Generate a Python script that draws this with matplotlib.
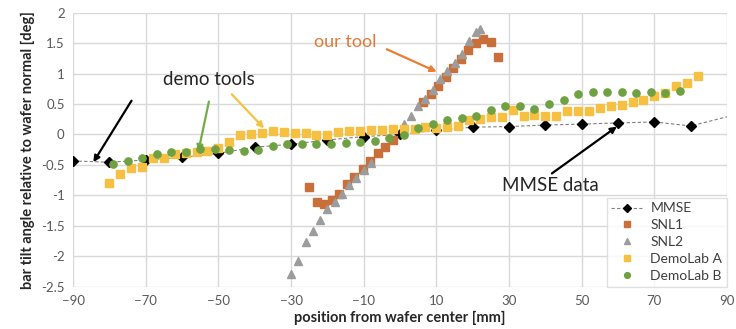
import matplotlib

matplotlib.use("Agg")
from matplotlib import pyplot as plt

plt.rcParams["font.family"] = ["Lato", "DejaVu Sans"]

# MMSE reference points (last one sits outside the plot, only the line shows)
mmse_x = [-90, -80, -70, -60, -50, -40, -30, -20, -10, 0, 10, 20, 30, 40, 50, 60, 70, 80, 100]
mmse_y = [-0.435, -0.455, -0.42, -0.375, -0.31, -0.21, -0.16, -0.09, -0.035, 0.0,
          0.07, 0.12, 0.13, 0.155, 0.17, 0.19, 0.205, 0.14, 0.44]

snl1_x = [-25, -22.9, -20.9, -18.8, -16.7, -14.7, -12.7, -10.3, -8.25, -6.1, -4.0, -1.8,
          6.4, 8.45, 10.55, 12.6, 14.7, 16.7, 18.8, 20.9, 22.9, 25.0, 27.0]
snl1_y = [-0.87, -1.11, -1.14, -1.08, -0.97, -0.82, -0.70, -0.57, -0.435, -0.31, -0.21, -0.09,
          0.54, 0.665, 0.80, 0.94, 1.09, 1.24, 1.38, 1.50, 1.56, 1.52, 1.27]

snl2_x = [-30, -28, -26, -24, -22, -20, -18, -16, -14, -12, -10, -8,
          1, 3, 5, 7, 9, 11, 13, 15, 17, 19, 21, 22]
snl2_y = [-2.29, -2.08, -1.77, -1.59, -1.41, -1.23, -1.11, -0.98, -0.83, -0.72, -0.59, -0.47,
          0.17, 0.30, 0.46, 0.58, 0.73, 0.91, 1.04, 1.18, 1.32, 1.54, 1.69, 1.73]

demo_a_x = [-80, -77, -74, -71, -68, -65, -62, -59, -56, -53, -50, -47, -44, -41, -38, -35,
            -32, -29, -26, -23, -20, -17, -14, -11, -8, -5, -2, 1, 4, 7, 10, 13, 16, 19, 22,
            25, 28, 31, 34, 37, 40, 43, 46, 49, 52, 55, 58, 61, 64, 67, 70, 73, 76, 79, 82]
demo_a_y = [-0.80, -0.65, -0.555, -0.53, -0.39, -0.38, -0.32, -0.30, -0.28, -0.27, -0.23,
            -0.12, -0.01, 0.0, 0.03, 0.06, 0.035, 0.03, 0.02, -0.01, -0.015, 0.045, 0.06,
            0.06, 0.07, 0.08, 0.085, 0.085, 0.09, 0.12, 0.10, 0.12, 0.14, 0.23, 0.25, 0.28,
            0.28, 0.41, 0.30, 0.32, 0.31, 0.30, 0.38, 0.38, 0.38, 0.44, 0.46, 0.49, 0.53,
            0.56, 0.63, 0.68, 0.79, 0.84, 0.96]

demo_b_x = [-79, -75, -71, -67, -63, -59, -55, -51, -47, -43, -39, -35, -31, -27, -23, -19,
            -15, -11, -7, -3, 1, 5, 9, 13, 17, 21, 25, 29, 33, 37, 41, 45, 49, 53, 57, 61,
            65, 69, 73, 77]
demo_b_y = [-0.48, -0.43, -0.385, -0.32, -0.29, -0.28, -0.245, -0.24, -0.26, -0.265, -0.255,
            -0.185, -0.16, -0.155, -0.16, -0.15, -0.14, -0.13, -0.10, -0.055, -0.01, 0.10,
            0.175, 0.235, 0.265, 0.31, 0.41, 0.47, 0.46, 0.42, 0.50, 0.57, 0.665, 0.70, 0.70,
            0.69, 0.68, 0.69, 0.68, 0.72]

x_ticks = list(range(-90, 91, 20))
y_ticks = [-2.5, -2, -1.5, -1, -0.5, 0, 0.5, 1, 1.5, 2]

fig = plt.figure(figsize=(7.36, 3.29), dpi=100)
fig.set_facecolor("w")
ax = fig.add_axes([0.0992, 0.1286, 0.8886, 0.8328])

ax.plot(mmse_x, mmse_y, color="#808080", lw=0.8, ls=(0, (3, 2)), marker="D",
        ms=5.5, mfc="black", mec="black", label="MMSE", zorder=3)
ax.plot(snl1_x, snl1_y, ls="none", marker="s", ms=5.6, color="#C9703A", label="SNL1", zorder=4)
ax.plot(snl2_x, snl2_y, ls="none", marker="^", ms=6, color="#9C9C9C", label="SNL2", zorder=5)
ax.plot(demo_a_x, demo_a_y, ls="none", marker="s", ms=5.6, color="#F6C142",
        label="DemoLab A", zorder=6)
ax.plot(demo_b_x, demo_b_y, ls="none", marker="o", ms=5.2, color="#6FA041",
        label="DemoLab B", zorder=7)

ax.set_xlim(-90, 90)
ax.set_ylim(-2.5, 2)
ax.set_xticks(x_ticks)
ax.set_yticks(y_ticks)
ax.set_yticklabels([f"{v:g}" for v in y_ticks])
ax.grid(True, color="#D9D9D9", lw=1)
ax.set_axisbelow(True)
for s in ax.spines.values():
    s.set_visible(False)
ax.tick_params(length=0, labelsize=9.5, colors="#595959", pad=6)

ax.set_xlabel("position from wafer center [mm]", fontsize=10.5, fontweight="bold",
              color="#262626", labelpad=3)
ax.set_ylabel("bar tilt angle relative to wafer normal [deg]", fontsize=10.5,
              fontweight="bold", color="#262626", labelpad=4)

# annotations
arr = dict(arrowstyle="-|>", lw=1.6, mutation_scale=9, shrinkA=0, shrinkB=0)
ax.text(-15, 1.52, "our tool", color="#E07B39", fontsize=13, ha="center", va="center")
ax.annotate("", xy=(10.1, 1.03), xytext=(-3.65, 1.40), arrowprops=dict(arr, color="#ED7D31"))
ax.text(-52.7, 0.895, "demo tools", color="#262626", fontsize=13.5, ha="center", va="center")
ax.annotate("", xy=(-84.4, -0.456), xytext=(-73.9, 0.555), arrowprops=dict(arr, color="black"))
ax.annotate("", xy=(-55.5, -0.28), xytext=(-52.6, 0.54), arrowprops=dict(arr, color="#70AD47"))
ax.annotate("", xy=(-37.4, 0.10), xytext=(-46.3, 0.66), arrowprops=dict(arr, color="#F5C242"))
ax.text(41.3, -0.83, "MMSE data", color="#262626", fontsize=13.5, ha="center", va="center")
ax.annotate("", xy=(59.7, 0.13), xytext=(41.8, -0.64), arrowprops=dict(arr, color="black"))

leg = ax.legend(loc="lower right", bbox_to_anchor=(1.0, 0.0), borderaxespad=0,
                fontsize=10, frameon=True, fancybox=False, edgecolor="#D9D9D9",
                labelspacing=0.35, handlelength=2.2, borderpad=0.35, handletextpad=0.6,
                markerscale=0.8)
leg.get_frame().set_linewidth(1)
for t in leg.get_texts():
    t.set_color("#404040")
leg.set_zorder(10)

fig.savefig("out.png", dpi=100)
